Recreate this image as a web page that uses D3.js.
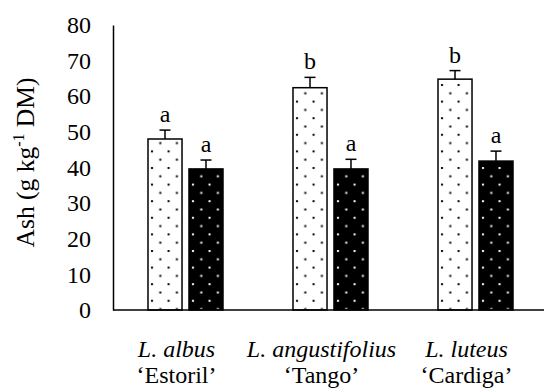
<!doctype html>
<html>
  <head>
    <meta charset="utf-8">
    <script src="https://cdn.jsdelivr.net/npm/d3@7"></script>
    <style>
      body { margin: 0; background: #fff; }
      svg text { font-family: "Liberation Serif", "Times New Roman", serif !important; fill: #000; }
    </style>
  </head>
  <body>
    <script>
    // data
    var species = ["L. albus", "L. angustifolius", "L. luteus"];
    var cultivars = ["\u2018Estoril\u2019", "\u2018Tango\u2019", "\u2018Cardiga\u2019"];
    var seriesNames = ["light", "dark"];
    var lightValues = [48.0, 62.4, 64.8];
    var lightErrors = [2.5, 2.9, 2.4];
    var lightLetters = ["a", "b", "b"];
    var darkValues = [39.6, 39.6, 41.8];
    var darkErrors = [2.5, 2.7, 2.8];
    var darkLetters = ["a", "a", "a"];
    var yTicks = [0, 10, 20, 30, 40, 50, 60, 70, 80];

    var width = 544;
    var height = 390;

    var svg = d3.select("body")
              .append("svg")
              .attr("width", width)
              .attr("height", height);

    // dotted fills
    var defs = svg.append("defs");
    function dots(id, bg, fg) {
      var p = defs.append("pattern")
        .attr("id", id)
        .attr("patternUnits", "userSpaceOnUse")
        .attr("width", 16.6)
        .attr("height", 16.6);
      p.append("rect").attr("width", 16.6).attr("height", 16.6).attr("fill", bg);
      p.append("rect").attr("x", 3).attr("y", 1).attr("width", 2).attr("height", 2).attr("fill", fg);
      p.append("rect").attr("x", 11.3).attr("y", 9.3).attr("width", 2).attr("height", 2).attr("fill", fg);
    }
    dots("dotLight", "#fff", "#000");
    dots("dotDark", "#000", "#fff");

    var x0 = d3.scaleBand().domain(species).range([113, 548]);
    var x1 = d3.scaleBand().domain(seriesNames).range([35, 110]).paddingInner(0.17);
    var y = d3.scaleLinear().domain([0, 80]).range([310, 25]);

    // y axis: line + labels, no ticks
    var yAxis = svg.append("g")
      .attr("transform", "translate(113,0)")
      .call(d3.axisLeft(y).tickValues(yTicks).tickSize(0).tickPadding(22));
    yAxis.attr("font-family", null).attr("font-size", null);
    yAxis.select(".domain").attr("stroke", "#000").attr("stroke-width", 1.5);
    yAxis.selectAll("text")
      .style("font-size", "24px");

    var rows = species.map(function(s, i) {
      return [
        {sp: s, key: "light", v: lightValues[i], e: lightErrors[i], l: lightLetters[i], fill: "url(#dotLight)"},
        {sp: s, key: "dark", v: darkValues[i], e: darkErrors[i], l: darkLetters[i], fill: "url(#dotDark)"}
      ];
    });
    var flat = d3.merge(rows);

    var bars = svg.append("g").selectAll("g")
      .data(flat)
      .enter().append("g")
      .attr("transform", function(d) { return "translate(" + (x0(d.sp) + x1(d.key)) + ",0)"; });

    bars.append("rect")
      .attr("x", 0)
      .attr("y", function(d) { return y(d.v); })
      .attr("width", x1.bandwidth())
      .attr("height", function(d) { return y(0) - y(d.v); })
      .attr("fill", function(d) { return d.fill; })
      .attr("stroke", "#000")
      .attr("stroke-width", 1.5);

    var bw = x1.bandwidth();
    bars.append("line")
      .attr("x1", bw / 2).attr("x2", bw / 2)
      .attr("y1", function(d) { return y(d.v); })
      .attr("y2", function(d) { return y(d.v + d.e); })
      .attr("stroke", "#000").attr("stroke-width", 1.5);
    bars.append("line")
      .attr("x1", bw / 2 - 5.5).attr("x2", bw / 2 + 5.5)
      .attr("y1", function(d) { return y(d.v + d.e); })
      .attr("y2", function(d) { return y(d.v + d.e); })
      .attr("stroke", "#000").attr("stroke-width", 1.5);

    bars.append("text")
      .attr("x", bw / 2)
      .attr("y", function(d) { return y(d.v + d.e) - 8; })
      .attr("text-anchor", "middle")
      .attr("font-size", "24px")
      .text(function(d) { return d.l; });

    // x axis baseline
    svg.append("line")
      .attr("x1", 113).attr("x2", 548)
      .attr("y1", y(0)).attr("y2", y(0))
      .attr("stroke", "#000").attr("stroke-width", 1.5);

    // category labels
    var cat = svg.append("g").selectAll("g")
      .data(species)
      .enter().append("g")
      .attr("transform", function(d) { return "translate(" + (x0(d) + x0.bandwidth() / 2 - 9) + ",0)"; });
    cat.append("text")
      .attr("y", 357)
      .attr("text-anchor", "middle")
      .attr("font-size", "24px")
      .attr("font-style", "italic")
      .text(function(d) { return d; });
    cat.append("text")
      .attr("y", 383)
      .attr("text-anchor", "middle")
      .attr("font-size", "24px")
      .text(function(d, i) { return cultivars[i]; });

    // y title
    var title = svg.append("text")
      .attr("transform", "translate(34," + ((y(0) + y(80)) / 2 - 5) + ") rotate(-90)")
      .attr("text-anchor", "middle")
      .attr("font-size", "25.5px");
    title.append("tspan").text("Ash (g kg");
    title.append("tspan").attr("font-size", "16px").attr("dy", -10).text("-1");
    title.append("tspan").attr("dy", 10).text(" DM)");
    </script>
  </body>
</html>
